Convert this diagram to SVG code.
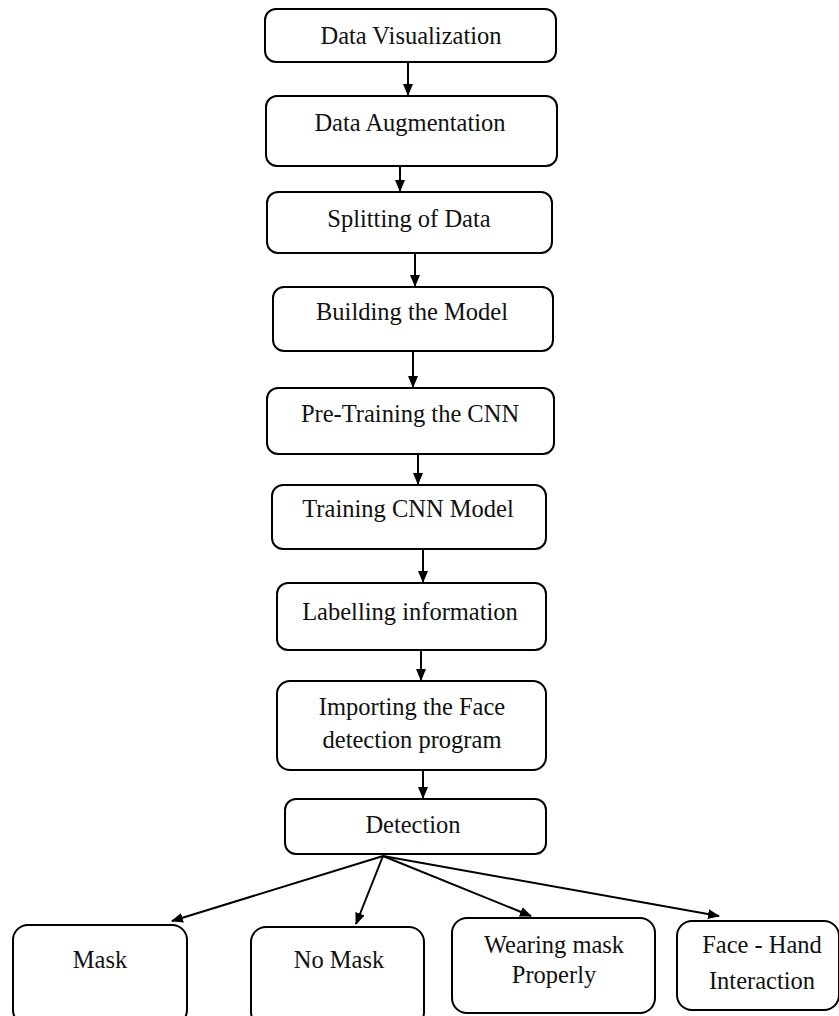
<svg xmlns="http://www.w3.org/2000/svg" width="839" height="1016" viewBox="0 0 839 1016">
<style>
.box{fill:#fff;stroke:#000;stroke-width:2}
.t{font-family:"Liberation Serif","DejaVu Serif",serif;font-size:24.5px;fill:#111;text-anchor:middle}
.c{stroke:#000;stroke-width:2;fill:none;marker-end:url(#ah)}
</style>
<defs>
<marker id="ah" markerWidth="12" markerHeight="12" viewBox="0 0 12 12" refX="11" refY="6" orient="auto" markerUnits="userSpaceOnUse">
<path d="M0,1 L12,6 L0,11 Z" fill="#000"/>
</marker>
</defs>
<rect width="839" height="1016" fill="#fff"/>
<g id="connectors">
<line class="c" x1="408" y1="62" x2="408" y2="95"/>
<line class="c" x1="400" y1="166" x2="400" y2="191"/>
<line class="c" x1="415" y1="253" x2="415" y2="286"/>
<line class="c" x1="413" y1="351" x2="413" y2="387"/>
<line class="c" x1="418" y1="454" x2="418" y2="484"/>
<line class="c" x1="423" y1="549" x2="423" y2="582"/>
<line class="c" x1="421" y1="650" x2="421" y2="680"/>
<line class="c" x1="423" y1="770" x2="423" y2="798"/>
<line class="c" x1="383" y1="856" x2="172" y2="921"/>
<line class="c" x1="383" y1="856" x2="356" y2="924"/>
<line class="c" x1="383" y1="856" x2="531" y2="916"/>
<line class="c" x1="383" y1="856" x2="719" y2="916"/>
</g>
<g id="n1"><rect class="box" x="265" y="9" width="291" height="53" rx="11"/><text class="t" x="411" y="44">Data Visualization</text></g>
<g id="n2"><rect class="box" x="266" y="96" width="291" height="70" rx="11"/><text class="t" x="410" y="131">Data Augmentation</text></g>
<g id="n3"><rect class="box" x="267" y="192" width="285" height="61" rx="11"/><text class="t" x="409" y="227">Splitting of Data</text></g>
<g id="n4"><rect class="box" x="273" y="287" width="280" height="64" rx="11"/><text class="t" x="412" y="320">Building the Model</text></g>
<g id="n5"><rect class="box" x="267" y="388" width="287" height="66" rx="11"/><text class="t" x="410" y="422">Pre-Training the CNN</text></g>
<g id="n6"><rect class="box" x="272" y="485" width="274" height="64" rx="11"/><text class="t" x="408" y="517">Training CNN Model</text></g>
<g id="n7"><rect class="box" x="277" y="583" width="269" height="67" rx="11"/><text class="t" x="410" y="620">Labelling information</text></g>
<g id="n8"><rect class="box" x="277" y="681" width="269" height="89" rx="13"/><text class="t" x="412" y="715">Importing the Face</text><text class="t" x="412" y="748">detection program</text></g>
<g id="n9"><rect class="box" x="285" y="799" width="261" height="55" rx="11"/><text class="t" x="413" y="833">Detection</text></g>
<g id="n10"><rect class="box" x="13" y="925" width="174" height="100" rx="15"/><text class="t" x="100" y="968">Mask</text></g>
<g id="n11"><rect class="box" x="251" y="927" width="173" height="100" rx="15"/><text class="t" x="339" y="968">No Mask</text></g>
<g id="n12"><rect class="box" x="452" y="918" width="203" height="95" rx="15"/><text class="t" x="554" y="953">Wearing mask</text><text class="t" x="554" y="983">Properly</text></g>
<g id="n13"><rect class="box" x="677" y="921" width="162" height="89" rx="15"/><text class="t" x="762" y="953">Face - Hand</text><text class="t" x="762" y="989">Interaction</text></g>
</svg>
